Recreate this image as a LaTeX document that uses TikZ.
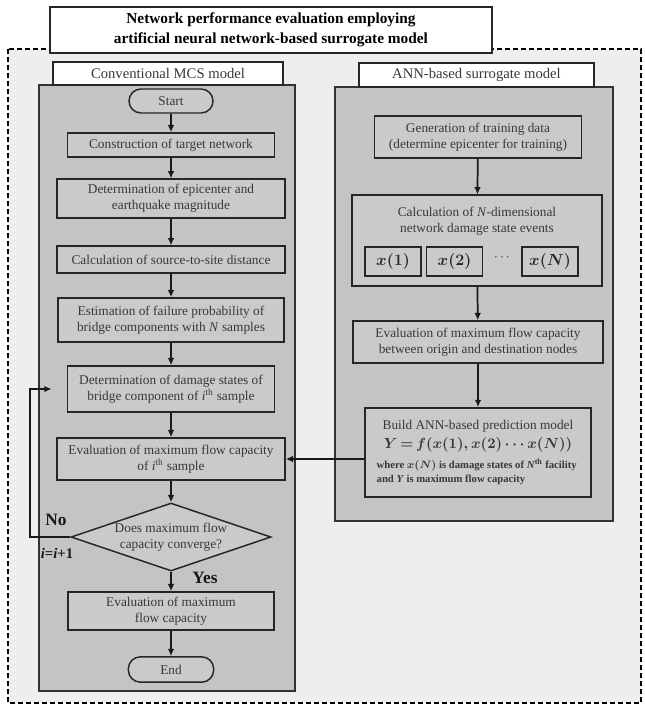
\documentclass[tikz,border=0pt]{standalone}
\usepackage{fontspec}
\setmainfont{Liberation Serif}
\usepackage{amsmath,bm}
\usetikzlibrary{arrows.meta,shapes.geometric}
\definecolor{outergray}{HTML}{EEEEEE}
\definecolor{panelgray}{HTML}{C4C4C4}
\definecolor{boxgray}{HTML}{CACACA}
\definecolor{txtgray}{HTML}{383838}
\tikzset{
  proc/.style={draw=black!85, line width=1.1pt, fill=boxgray, text=txtgray, align=center,
    font=\fontsize{10}{12}\selectfont, inner sep=2pt},
  term/.style={proc, rounded corners=9pt},
  decision/.style={proc, diamond, inner sep=0pt},
  head/.style={draw=black!85, line width=1.1pt, fill=white, text=txtgray,
    font=\fontsize{11}{13}\selectfont},
  panel/.style={draw=black!80, line width=1pt, fill=panelgray},
  xbox/.style={proc, minimum width=42pt, minimum height=22pt, font=\fontsize{11.5}{13}\selectfont\boldmath, text=black!85},
  arr/.style={-{Latex[length=5.5pt,width=5pt]}, line width=1.3pt, black!90},
  tag/.style={font=\fontsize{13}{15}\selectfont\bfseries, text=black!90}
}
\begin{document}
\begin{tikzpicture}[x=0.75pt, y=-0.75pt]
\useasboundingbox (0,0) rectangle (645,706);
% outer frame and title
\draw[dash pattern=on 4pt off 2pt, line width=1.4pt, fill=outergray] (8,49) rectangle (641,703);
\node[head, minimum width=331.5pt, minimum height=34.5pt, align=center,
  font=\fontsize{11.5}{15}\selectfont\bfseries, text=black] (title) at (271,30)
  {Network performance evaluation employing\\artificial neural network-based surrogate model};

% left panel: conventional MCS
\draw[panel] (39,85) rectangle (295,691);
\node[head, minimum width=172.5pt, minimum height=17.25pt] (mcshead) at (168,73.5) {Conventional MCS model};
\node[term, minimum width=63pt, minimum height=18pt] (start) at (171,101) {Start};
\node[proc, minimum width=155pt, minimum height=18pt] (con) at (171,145) {Construction of target network};
\node[proc, minimum width=171pt, minimum height=29pt] (epi) at (171,198.5) {Determination of epicenter and\\earthquake magnitude};
\node[proc, minimum width=171pt, minimum height=20pt] (dist) at (171,259.5) {Calculation of source-to-site distance};
\node[proc, minimum width=169.5pt, minimum height=33pt] (est) at (171,320) {Estimation of failure probability of\\bridge components with \textit{N} samples};
\node[proc, minimum width=155pt, minimum height=34.5pt] (dmg) at (171,389) {Determination of damage states of\\bridge component of \textit{i}\textsuperscript{th} sample};
\node[proc, minimum width=171pt, minimum height=31.5pt] (evi) at (171,459) {Evaluation of maximum flow capacity\\of \textit{i}\textsuperscript{th} sample};
\node[decision, minimum width=150pt, minimum height=51pt,
  label={[align=center, font=\fontsize{10}{12}\selectfont, text=txtgray]center:Does maximum flow\\capacity converge?}] (conv) at (171,537) {};
\node[proc, minimum width=154.5pt, minimum height=28.5pt] (fin) at (171,611) {Evaluation of maximum\\flow capacity};
\node[term, minimum width=64pt, minimum height=19pt] (stop) at (171,669.5) {End};

\draw[arr] (start) -- (con);
\draw[arr] (con) -- (epi);
\draw[arr] (epi) -- (dist);
\draw[arr] (dist) -- (est);
\draw[arr] (est) -- (dmg);
\draw[arr] (dmg) -- (evi);
\draw[arr] (evi) -- (conv);
\draw[arr] (conv) -- (fin);
\draw[arr] (fin) -- (stop);
\draw[arr, shorten >=11.5pt] (conv.west) -- ++(-40,0) |- (dmg.west);
\node[tag] (no) at (56,520) {No};
\node[tag, font=\fontsize{11}{13}\selectfont\bfseries] (incr) at (57,553) {\textit{i}=\textit{i}+1};
\node[tag] (yes) at (205,578) {Yes};

% right panel: ANN surrogate
\draw[panel] (335,87) rectangle (613,521);
\node[head, minimum width=176pt, minimum height=18pt] (annhead) at (476.5,75) {ANN-based surrogate model};
\node[proc, minimum width=155pt, minimum height=31.5pt] (gen) at (478,137) {Generation of training data\\(determine epicenter for training)};
\node[proc, minimum width=187.5pt, minimum height=68pt,
  label={[anchor=north, align=center, yshift=-6pt, font=\fontsize{10}{12}\selectfont, text=txtgray]north:Calculation of \textit{N}-dimensional\\network damage state events}] (calc) at (477,240.5) {};
\node[xbox] (x1) at (393,261.5) {$x(1)$};
\node[xbox] (x2) at (454.5,261.5) {$x(2)$};
\node[text=txtgray] (dots) at (503,258) {$\cdots$};
\node[xbox] (xn) at (550,261.5) {$x(N)$};
\node[proc, minimum width=187.5pt, minimum height=31.5pt] (evb) at (478,342) {Evaluation of maximum flow capacity\\between origin and destination nodes};
\node[proc, minimum width=169.5pt, minimum height=67pt] (ann) at (478,452.5) {Build ANN-based prediction model\\[2pt]
  {\fontsize{10.5}{13}\selectfont\boldmath\medmuskip=2mu\thickmuskip=3mu$Y=f(x(1),x(2)\cdots x(N))$}\\[4pt]
  \begin{minipage}{152pt}\raggedright\fontsize{8}{10.5}\selectfont\bfseries\boldmath where $x(N)$ is damage states of \textit{N}\textsuperscript{th} facility\\and \textit{Y} is maximum flow capacity\end{minipage}};

\draw[arr] (gen) -- (calc);
\draw[arr] (calc) -- (evb);
\draw[arr] (evb) -- (ann);
\draw[arr] (ann.west |- evi.east) -- (evi.east);
\end{tikzpicture}
\end{document}
